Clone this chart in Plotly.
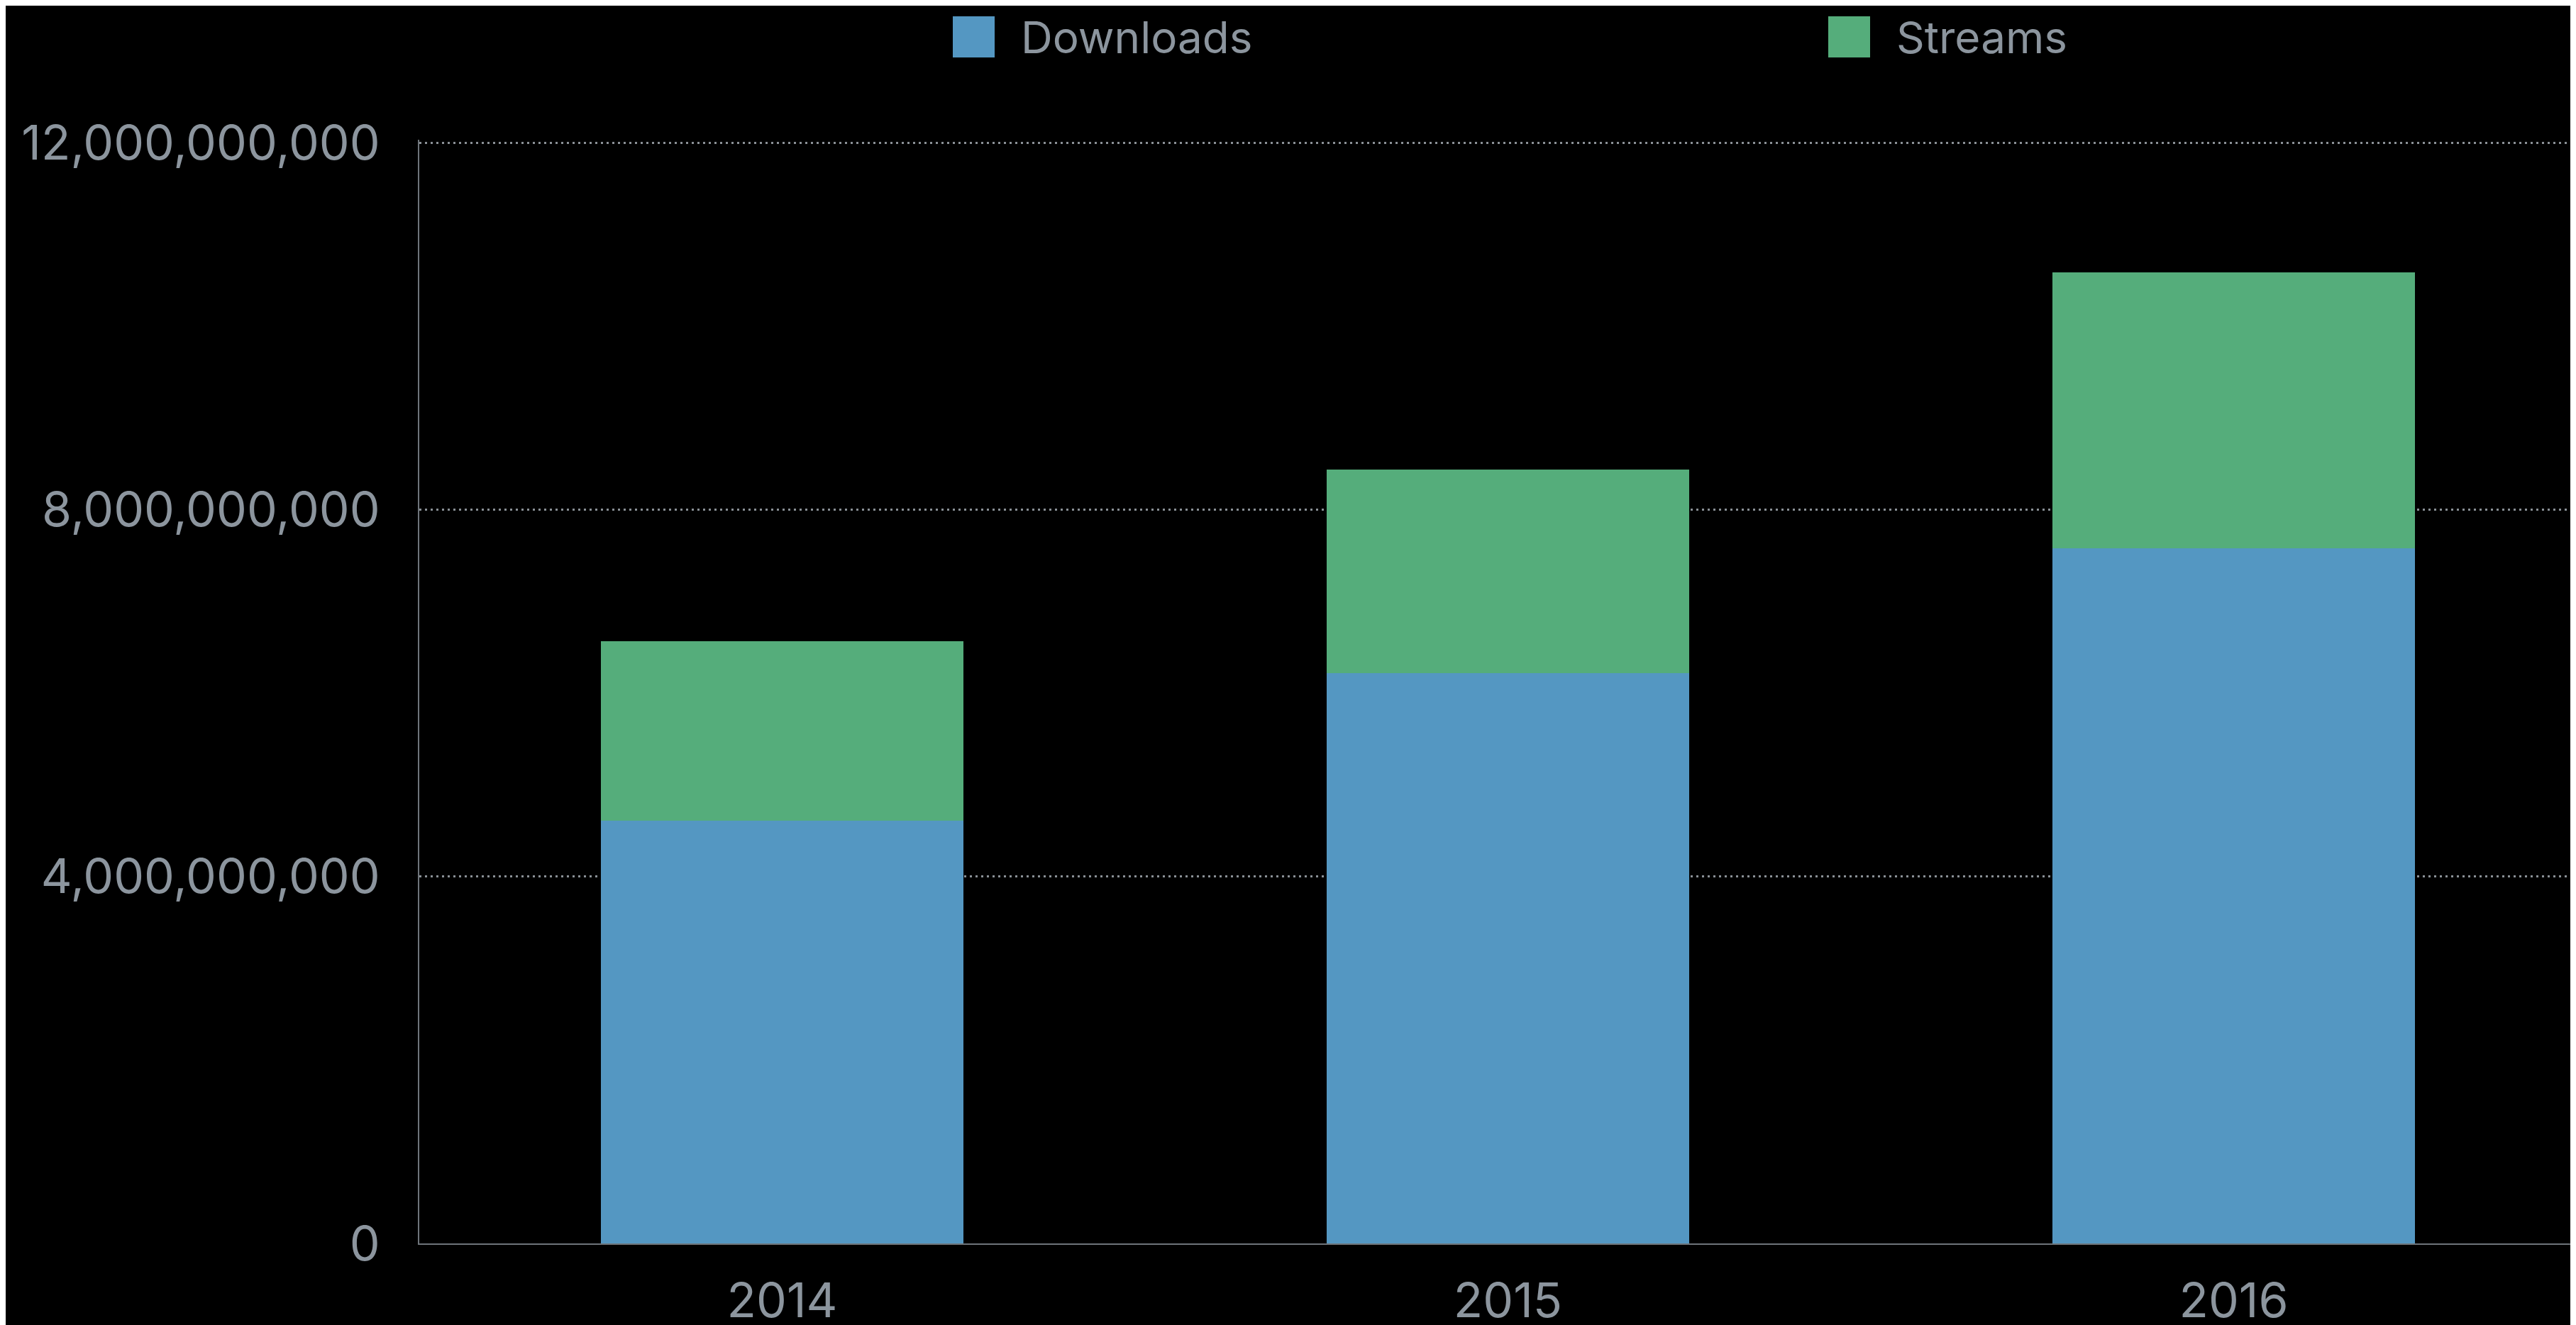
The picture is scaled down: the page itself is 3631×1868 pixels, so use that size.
import plotly.graph_objects as go

years = ["2014", "2015", "2016"]
downloads = [4.607e9, 6.218e9, 7.576e9]
streams = [1.959e9, 2.219e9, 3.011e9]
y_ticks = [0, 4e9, 8e9, 12e9]
series_names = ["Downloads", "Streams"]

BLUE = "#5497C2"
GREEN = "#55AD7B"
TXT = "#8C959E"
FONT = "Inter"

W, H = 3631, 1868
OFF = 8  # page body margin
# plot area in page pixels (top grid line at 201, zero line at 1753)
GRID_TOP, PB = 201, 1753
PT = GRID_TOP - 4
PL, PR = 591, OFF + W
Y_MAX = y_ticks[-1] * (PB - PT) / (PB - GRID_TOP)

fig = go.Figure()
fig.add_trace(go.Bar(x=years, y=downloads, name=series_names[0], marker=dict(color=BLUE, line=dict(width=0)), width=0.5))
fig.add_trace(go.Bar(x=years, y=streams, name=series_names[1], marker=dict(color=GREEN, line=dict(width=0)), width=0.5))

def px_x(p):
    return (p - PL) / (PR - PL)

def px_y(p):
    return (PB - p) / (PB - PT)

legend_items = [(series_names[0], BLUE, 1343), (series_names[1], GREEN, 2577)]
for name, col, x0 in legend_items:
    fig.add_shape(type="rect", xref="paper", yref="paper",
                  x0=px_x(x0), x1=px_x(x0 + 59), y0=px_y(81), y1=px_y(23),
                  fillcolor=col, line=dict(width=0))
    fig.add_annotation(xref="paper", yref="paper", x=px_x(x0 + 94), y=px_y(52),
                       text=name, showarrow=False, xanchor="left", yanchor="middle",
                       font=dict(family=FONT, size=62, color=TXT))

fig.update_layout(
    barmode="stack",
    width=W, height=H,
    margin=dict(l=PL - OFF, r=0, t=PT - OFF, b=OFF + H - PB, pad=0),
    paper_bgcolor="black", plot_bgcolor="black",
    showlegend=False,
    font=dict(family=FONT, size=68, color=TXT),
)
fig.update_xaxes(
    type="category", range=[-0.5, -0.5 + (PR - PL) / 1023.0],
    showgrid=False, showline=True, linecolor="#6E747A", linewidth=2,
    ticks="", tickfont=dict(family=FONT, size=68, color=TXT),
    ticklabelstandoff=20, zeroline=False,
)
fig.update_yaxes(
    range=[0, Y_MAX], tickvals=y_ticks, tickformat=",d",
    showgrid=True, gridcolor="#8A9096", gridwidth=2.5, griddash="3px,5px",
    showline=True, linecolor="#6E747A", linewidth=1.5,
    ticks="", tickfont=dict(family=FONT, size=68, color=TXT),
    ticklabelstandoff=40, zeroline=False,
)

fig.write_html("out.html")
